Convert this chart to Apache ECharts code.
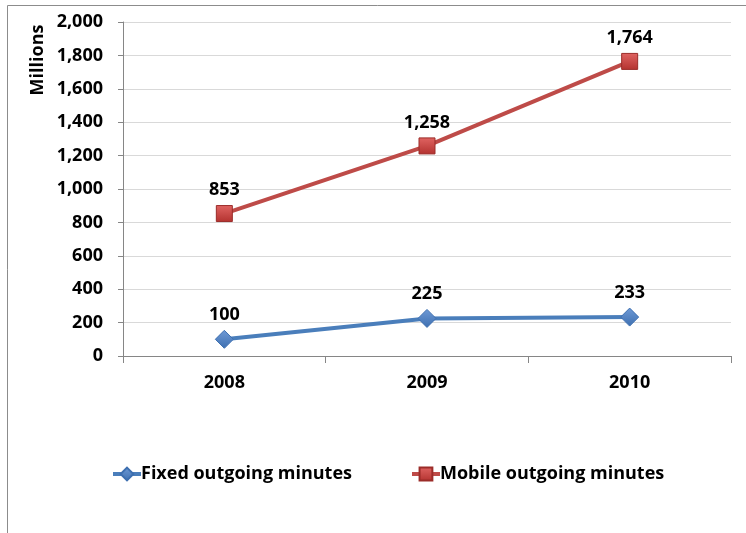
<!DOCTYPE html>
<html><head><meta charset="utf-8">
<script src="https://cdn.jsdelivr.net/npm/echarts@6/dist/echarts.min.js"></script>
<style>html,body{margin:0;padding:0;background:#fff}#c{width:746px;height:533px}</style>
</head><body><div id="c"></div>
<script>
const categories = ['2008', '2009', '2010'];
const fixedMinutes = [100, 225, 233];
const mobileMinutes = [853, 1258, 1764];
const yTicks = [0, 200, 400, 600, 800, 1000, 1200, 1400, 1600, 1800, 2000];

const FONT = '"Open Sans", Lato, sans-serif';
const FS = 18;
const fmt = v => Number(v).toLocaleString('en-US');
const chart = echarts.init(document.getElementById('c'));
chart.setOption({
  animation: false,
  textStyle: { fontFamily: FONT },
  graphic: [
    { type: 'rect', shape: { x: 7.5, y: 5.5, width: 900, height: 700 }, style: { fill: 'none', stroke: '#8c8c8c', lineWidth: 1 }, silent: true },
    { type: 'text', x: 38, y: 60, rotation: Math.PI / 2, style: { text: 'Millions', font: 'bold ' + FS + 'px ' + FONT, fill: '#000', align: 'center', verticalAlign: 'middle' }, silent: true }
  ],
  grid: { left: 123, right: 15, top: 22, bottom: 177 },
  legend: {
    top: 460, left: 106, itemGap: 58, itemWidth: 28, itemHeight: 16,
    lineStyle: { width: 4 },
    textStyle: { fontFamily: FONT, fontWeight: 'bold', fontSize: FS, color: '#000', padding: [0, 0, 0, -5] },
    data: ['Fixed outgoing minutes', 'Mobile outgoing minutes']
  },
  xAxis: {
    type: 'category', data: categories, boundaryGap: true,
    axisLine: { lineStyle: { color: '#868686' } },
    axisTick: { show: true, length: 7, lineStyle: { color: '#868686' } },
    axisLabel: { fontFamily: FONT, fontWeight: 'bold', fontSize: FS, color: '#000', margin: 18 }
  },
  yAxis: {
    type: 'value', min: yTicks[0], max: yTicks[yTicks.length - 1], interval: 200,
    axisLine: { show: true, lineStyle: { color: '#868686' } },
    axisTick: { show: true, length: 5, lineStyle: { color: '#868686' } },
    splitLine: { lineStyle: { color: '#d9d9d9' } },
    axisLabel: { fontFamily: FONT, fontWeight: 'bold', fontSize: FS, color: '#000', margin: 20, formatter: v => fmt(v) }
  },
  series: [
    {
      name: 'Fixed outgoing minutes', type: 'line', data: fixedMinutes,
      symbol: 'diamond', symbolSize: 18,
      lineStyle: { color: '#4a7ebb', width: 4 },
      itemStyle: { color: new echarts.graphic.LinearGradient(0, 0, 0, 1, [{ offset: 0, color: '#6f9ad6' }, { offset: 1, color: '#3d6fb0' }]), borderColor: '#3d6fb0', borderWidth: 1 },
      label: { show: true, position: 'top', distance: 6, fontFamily: FONT, fontWeight: 'bold', fontSize: FS, color: '#000', formatter: p => fmt(p.value) }
    },
    {
      name: 'Mobile outgoing minutes', type: 'line', data: mobileMinutes,
      symbol: 'rect', symbolSize: 16,
      lineStyle: { color: '#be4b48', width: 4 },
      itemStyle: { color: new echarts.graphic.LinearGradient(0, 0, 0, 1, [{ offset: 0, color: '#e06462' }, { offset: 1, color: '#b3322f' }]), borderColor: '#9b2c29', borderWidth: 1 },
      label: { show: true, position: 'top', distance: 6, fontFamily: FONT, fontWeight: 'bold', fontSize: FS, color: '#000', formatter: p => fmt(p.value) }
    }
  ]
});
</script></body></html>
